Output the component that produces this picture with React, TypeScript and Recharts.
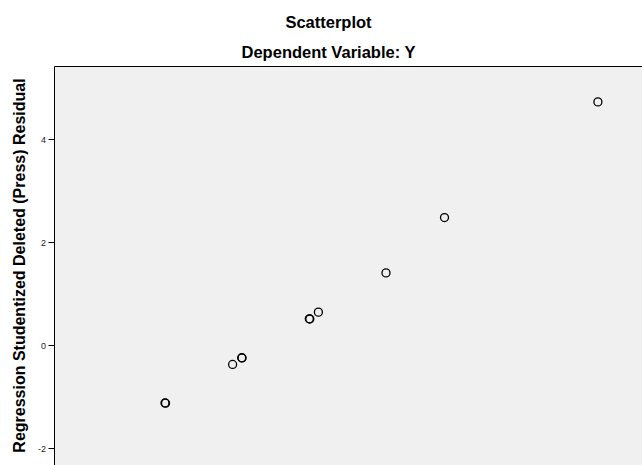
import React from "react";
import { ScatterChart, Scatter, XAxis, YAxis, ReferenceArea } from "recharts";

const predicted = [-1.15, -1.146, -0.63, -0.56, -0.557, -0.04, -0.036, 0.03, 0.55, 1.0, 2.18];
const residual = [-1.114, -1.118, -0.366, -0.235, -0.239, 0.522, 0.518, 0.651, 1.414, 2.489, 4.737];
const yTicks = [-2, 0, 2, 4];
const titleText = "Scatterplot";
const subtitleText = "Dependent Variable: Y";
const yLabelText = "Regression Studentized Deleted (Press) Residual";

const data = predicted.map((x, i) => ({ x, y: residual[i] }));

const FONT = "'Liberation Sans', Arial, sans-serif";
const X_DOMAIN: [number, number] = [-2, 3];
const Y_DOMAIN: [number, number] = [-3, 5.425];

const Marker = (props: any) => {
  const { cx, cy } = props;
  if (cx == null || cy == null) return null;
  return <circle cx={cx} cy={cy} r={4} fill="none" stroke="#000" strokeWidth={1.3} />;
};

const YTick = (props: any) => {
  const { x, y, payload } = props;
  return (
    <g>
      <rect x={x + 2} y={Math.floor(y)} width={6} height={1} fill="#000" />
      <text
        x={x - 0.5}
        y={y}
        dy="0.35em"
        textAnchor="end"
        fontFamily={FONT}
        fontSize={9}
        fill="#222"
      >
        {payload.value}
      </text>
    </g>
  );
};

export default function App() {
  return (
    <div
      style={{
        position: "fixed",
        left: 0,
        top: 0,
        width: 642,
        height: 465,
        overflow: "hidden",
        background: "#fff",
      }}
    >
      <ScatterChart
        width={720}
        height={550}
        margin={{ top: 66.5, right: 15.5, bottom: 10, left: 0 }}
      >
        <ReferenceArea
          x1={X_DOMAIN[0]}
          x2={X_DOMAIN[1]}
          y1={Y_DOMAIN[0]}
          y2={Y_DOMAIN[1]}
          fill="#f0f0f0"
          fillOpacity={1}
          stroke="#000"
          strokeWidth={1}
          ifOverflow="visible"
        />
        <XAxis
          type="number"
          dataKey="x"
          domain={X_DOMAIN}
          height={40}
          tick={false}
          tickLine={false}
          axisLine={false}
        />
        <YAxis
          type="number"
          dataKey="y"
          domain={Y_DOMAIN}
          ticks={yTicks}
          width={54.5}
          tickSize={6}
          tickMargin={2}
          axisLine={false}
          tickLine={false}
          tick={<YTick />}
          allowDataOverflow
        />
        <Scatter data={data} shape={<Marker />} isAnimationActive={false} />
      </ScatterChart>
      <svg
        width={642}
        height={465}
        style={{ position: "absolute", left: 0, top: 0, pointerEvents: "none" }}
      >
        <text x={328.5} y={27.5} textAnchor="middle" fontFamily={FONT} fontWeight="bold" fontSize={16.5} fill="#000">
          {titleText}
        </text>
        <text x={328.5} y={58.3} textAnchor="middle" fontFamily={FONT} fontWeight="bold" fontSize={16.5} fill="#000">
          {subtitleText}
        </text>
        <text
          x={25}
          y={265.5}
          transform="rotate(-90, 25, 265.5)"
          textAnchor="middle"
          fontFamily={FONT}
          fontWeight="bold"
          fontSize={16}
          fill="#000"
        >
          {yLabelText}
        </text>
      </svg>
    </div>
  );
}
